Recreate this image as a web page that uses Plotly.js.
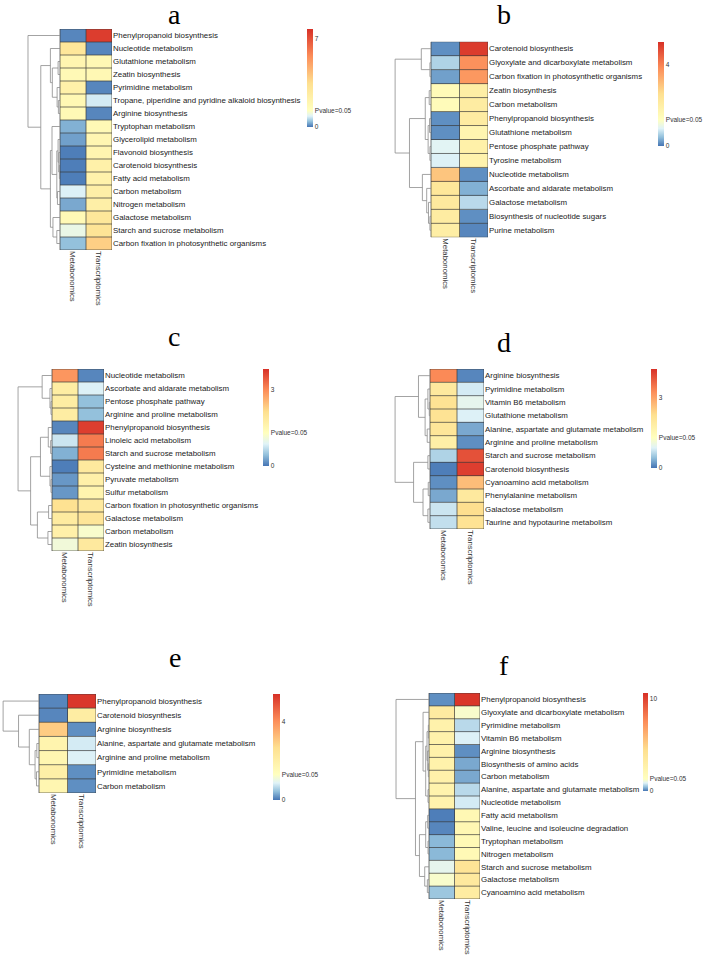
<!DOCTYPE html>
<html><head><meta charset="utf-8">
<script src="https://cdn.plot.ly/plotly-3.0.1.min.js"></script>
<style>body{margin:0;background:#fff}#chart{width:709px;height:958px}</style>
</head><body><div id="chart"></div>
<script>
const columns = ['Metabonomics', 'Transcriptomics'];
const pvalueLabel = 'Pvalue=0.05';
const pvalueLevel = 1.3;

// ---- panel a ----
const labelsA = ['Phenylpropanoid biosynthesis','Nucleotide metabolism','Glutathione metabolism','Zeatin biosynthesis','Pyrimidine metabolism','Tropane, piperidine and pyridine alkaloid biosynthesis','Arginine biosynthesis','Tryptophan metabolism','Glycerolipid metabolism','Flavonoid biosynthesis','Carotenoid biosynthesis','Fatty acid metabolism','Carbon metabolism','Nitrogen metabolism','Galactose metabolism','Starch and sucrose metabolism','Carbon fixation in photosynthetic organisms'];
const metabA = [0.1, 3.0, 2.0, 1.7, 2.3, 1.8, 1.7, 0.35, 0.25, 0.05, 0.05, 0.05, 0.85, 0.3, 1.7, 1.0, 0.45];
const transA = [7.5, 0.1, 1.8, 1.8, 0.1, 0.8, 0.1, 1.7, 1.9, 2.0, 2.3, 2.2, 2.4, 2.4, 3.0, 3.2, 3.9];
const treeA = [1, 0, [0.6, [0.3, 1, [0.24, [0.06, 2, 3], [0.09, 4, [0.05, 5, 6]]]], [0.3, [0.25, 7, [0.1, [0.06, 8, [0.04, 9, [0.02, 10, 11]]], [0.08, 12, 13]]], [0.22, 14, [0.1, 15, 16]]]]];
const maxA = 7.8, tickA = 7;

// ---- panel b ----
const labelsB = ['Carotenoid biosynthesis','Glyoxylate and dicarboxylate metabolism','Carbon fixation in photosynthetic organisms','Zeatin biosynthesis','Carbon metabolism','Phenylpropanoid biosynthesis','Glutathione metabolism','Pentose phosphate pathway','Tyrosine metabolism','Nucleotide metabolism','Ascorbate and aldarate metabolism','Galactose metabolism','Biosynthesis of nucleotide sugars','Purine metabolism'];
const metabB = [0.15, 0.6, 0.25, 1.5, 1.45, 0.15, 0.15, 0.9, 0.85, 3.0, 2.3, 2.2, 2.1, 2.0];
const transB = [5.0, 3.8, 3.7, 2.0, 2.1, 2.1, 1.7, 1.9, 1.8, 0.15, 0.35, 0.65, 0.15, 0.1];
const treeB = [1, [0.27, 0, [0.03, 1, 2]], [0.6, [0.16, [0.05, 3, 4], [0.08, [0.04, 5, 6], [0.03, 7, 8]]], [0.24, 9, [0.12, 10, [0.07, 11, [0.03, 12, 13]]]]]];
const maxB = 5.15, tickB = 4;

// ---- panel c ----
const labelsC = ['Nucleotide metabolism','Ascorbate and aldarate metabolism','Pentose phosphate pathway','Arginine and proline metabolism','Phenylpropanoid biosynthesis','Linoleic acid metabolism','Starch and sucrose metabolism','Cysteine and methionine metabolism','Pyruvate metabolism','Sulfur metabolism','Carbon fixation in photosynthetic organisms','Galactose metabolism','Carbon metabolism','Zeatin biosynthesis'];
const metabC = [2.9, 1.8, 1.8, 1.8, 0.1, 0.75, 0.35, 0.05, 0.2, 0.2, 2.1, 1.85, 1.7, 1.1];
const transC = [0.1, 0.85, 0.45, 0.45, 3.7, 3.15, 3.15, 1.9, 1.7, 1.6, 1.9, 2.0, 1.2, 1.9];
const treeC = [1, [0.29, 0, [0.06, 1, [0.03, 2, 3]]], [0.63, [0.34, [0.11, 4, [0.04, 5, 6]], [0.06, 7, [0.03, 8, 9]]], [0.43, [0.1, 10, 11], [0.12, 12, 13]]]];
const maxC = 3.83, tickC = 3;

// ---- panel d ----
const labelsD = ['Arginine biosynthesis','Pyrimidine metabolism','Vitamin B6 metabolism','Glutathione metabolism','Alanine, aspartate and glutamate metabolism','Arginine and proline metabolism','Starch and sucrose metabolism','Carotenoid biosynthesis','Cyanoamino acid metabolism','Phenylalanine metabolism','Galactose metabolism','Taurine and hypotaurine metabolism'];
const metabD = [3.3, 2.0, 2.2, 2.2, 2.1, 1.8, 0.6, 0.05, 0.15, 0.3, 0.75, 0.7];
const transD = [0.1, 0.8, 0.95, 0.85, 0.3, 0.15, 3.9, 4.1, 2.7, 2.0, 2.3, 2.2];
const treeD = [1, [0.33, 0, [0.14, [0.06, 1, [0.02, 2, 3]], [0.08, 4, 5]]], [0.47, [0.06, 6, 7], [0.2, [0.05, 8, 9], [0.06, 10, 11]]]];
const maxD = 4.25, tickD = 3;

// ---- panel e ----
const labelsE = ['Phenylpropanoid biosynthesis','Carotenoid biosynthesis','Arginine biosynthesis','Alanine, aspartate and glutamate metabolism','Arginine and proline metabolism','Pyrimidine metabolism','Carbon metabolism'];
const metabE = [0.1, 0.1, 3.0, 1.8, 1.7, 2.0, 1.7];
const transE = [5.3, 2.1, 0.15, 0.8, 0.85, 0.15, 0.15];
const treeE = [1, 0, [0.57, 1, [0.27, 2, [0.11, [0.06, 3, 4], [0.07, 5, 6]]]]];
const maxE = 5.4, tickE = 4;

// ---- panel f ----
const labelsF = ['Phenylpropanoid biosynthesis','Glyoxylate and dicarboxylate metabolism','Pyrimidine metabolism','Vitamin B6 metabolism','Arginine biosynthesis','Biosynthesis of amino acids','Carbon metabolism','Alanine, aspartate and glutamate metabolism','Nucleotide metabolism','Fatty acid metabolism','Valine, leucine and isoleucine degradation','Tryptophan metabolism','Nitrogen metabolism','Starch and sucrose metabolism','Galactose metabolism','Cyanoamino acid metabolism'];
const metabF = [0.15, 3.3, 2.6, 2.6, 2.7, 2.6, 2.7, 2.5, 2.5, 0.05, 0.1, 0.4, 0.4, 0.95, 1.2, 0.5];
const transF = [10.4, 1.2, 0.65, 0.85, 0.15, 0.3, 0.3, 0.65, 0.8, 2.0, 2.1, 1.9, 1.9, 4.0, 3.5, 3.2];
const treeF = [1, 0, [0.41, [0.18, 1, [0.1, [0.06, [0.02, 2, 3], [0.04, 4, [0.02, 5, 6]]], [0.03, 7, 8]]], [0.29, [0.1, [0.04, 9, 10], [0.03, 11, 12]], [0.13, 13, [0.05, 14, 15]]]]];
const maxF = 10.6, tickF = 10;

const panelNames = ['a','b','c','d','e','f'];

// ---- layout geometry (pixels) ----
const W = 709, H = 958;
const geom = [
  {dl: 27,  hl: 60,  hr: 112, top: 29,  bot: 250, tx: 174.5, ty: 15,  cbx: 307, cbw: 6, cbt: 29,  cbb: 127},
  {dl: 394, hl: 431, hr: 488, top: 41.7,bot: 237.3,tx: 504, ty: 15,   cbx: 658, cbw: 6, cbt: 41.7,cbb: 146},
  {dl: 17,  hl: 52,  hr: 104, top: 369, bot: 551, tx: 174,  ty: 336,  cbx: 263, cbw: 6, cbt: 369, cbb: 466},
  {dl: 394, hl: 430, hr: 484, top: 369, bot: 529, tx: 504,  ty: 342,  cbx: 651, cbw: 6, cbt: 369, cbb: 468},
  {dl: 2,   hl: 39,  hr: 96,  top: 694, bot: 793, tx: 174.5,ty: 657,  cbx: 273, cbw: 7, cbt: 694, cbb: 800},
  {dl: 395, hl: 429, hr: 480, top: 693, bot: 899, tx: 504,  ty: 665,  cbx: 643, cbw: 5, cbt: 693, cbb: 791}
];

const panels = [
  {labels: labelsA, m: metabA, t: transA, tree: treeA, max: maxA, tick: tickA},
  {labels: labelsB, m: metabB, t: transB, tree: treeB, max: maxB, tick: tickB},
  {labels: labelsC, m: metabC, t: transC, tree: treeC, max: maxC, tick: tickC},
  {labels: labelsD, m: metabD, t: transD, tree: treeD, max: maxD, tick: tickD},
  {labels: labelsE, m: metabE, t: transE, tree: treeE, max: maxE, tick: tickE},
  {labels: labelsF, m: metabF, t: transF, tree: treeF, max: maxF, tick: tickF}
];

function colorscale(zmax) {
  const t = pvalueLevel / zmax;
  return [[0,'#4575B4'],[t/3,'#91BFDB'],[2*t/3,'#E0F3F8'],[t,'#FFFFBF'],
          [t+(1-t)/3,'#FEE090'],[t+2*(1-t)/3,'#FC8D59'],[1,'#D73027']];
}

const FONT = 'Liberation Sans, Arial, sans-serif';
const traces = [];
const layout = {
  width: W, height: H, margin: {l:0, r:0, t:0, b:0},
  paper_bgcolor: '#fff', plot_bgcolor: 'rgba(0,0,0,0)',
  showlegend: false, hovermode: false, annotations: []
};

panels.forEach((p, k) => {
  const g = geom[k];
  const n = p.labels.length;
  const ax = k === 0 ? '' : String(k + 1);
  const colW = (g.hr - g.hl) / 2;
  const dUnits = (g.hl - g.dl) / colW;
  const ys = p.labels.map((_, i) => i);
  const z = ys.map(i => [p.m[i], p.t[i]]);

  traces.push({
    type: 'heatmap', z: z, x: [0, 1], y: ys, xaxis: 'x' + ax, yaxis: 'y' + ax,
    zmin: 0, zmax: p.max, colorscale: colorscale(p.max), hoverinfo: 'skip',
    showscale: true,
    colorbar: {
      x: g.cbx / W, xanchor: 'left', xpad: 0,
      y: 1 - g.cbt / H, yanchor: 'top', ypad: 0,
      len: g.cbb - g.cbt, lenmode: 'pixels',
      thickness: g.cbw, thicknessmode: 'pixels',
      outlinewidth: 0, ticks: '', ticklen: 0,
      tickvals: [0, pvalueLevel, p.tick], ticktext: ['0', pvalueLabel, String(p.tick)],
      tickfont: {family: FONT, size: 6.5, color: '#333'}
    }
  });

  // cell borders
  const gx = [], gy = [];
  for (let i = 0; i <= n; i++) { gx.push(-0.5, 1.5, null); gy.push(i - 0.5, i - 0.5, null); }
  for (let j = 0; j <= columns.length; j++) { gx.push(j - 0.5, j - 0.5, null); gy.push(-0.5, n - 0.5, null); }
  traces.push({type: 'scatter', mode: 'lines', x: gx, y: gy, xaxis: 'x' + ax, yaxis: 'y' + ax,
    line: {color: '#3a3a3a', width: 0.7}, hoverinfo: 'skip', cliponaxis: false});

  // dendrogram
  const dx = [], dy = [];
  const hx = h => -0.5 - h * dUnits * 0.97;
  function walk(node) {
    if (typeof node === 'number') return {y: node, h: 0};
    const L = walk(node[1]), R = walk(node[2]);
    const h = node[0];
    dx.push(hx(L.h), hx(h), hx(h), hx(R.h), null);
    dy.push(L.y, L.y, R.y, R.y, null);
    return {y: (L.y + R.y) / 2, h: h};
  }
  walk(p.tree);
  traces.push({type: 'scatter', mode: 'lines', x: dx, y: dy, xaxis: 'x' + ax, yaxis: 'y' + ax,
    line: {color: '#8c8c8c', width: 0.8}, hoverinfo: 'skip', cliponaxis: false});

  layout['xaxis' + ax] = {
    domain: [g.dl / W, g.hr / W], range: [-0.5 - dUnits, 1.5], anchor: 'y' + ax,
    tickvals: [0, 1], ticktext: columns, tickangle: 90, ticks: '',
    showgrid: false, zeroline: false, showline: false, fixedrange: true,
    tickfont: {family: FONT, size: 7.8, color: '#333'}
  };
  layout['yaxis' + ax] = {
    domain: [1 - g.bot / H, 1 - g.top / H], range: [n - 0.5, -0.5], anchor: 'x' + ax,
    side: 'right', tickvals: ys, ticktext: p.labels, ticks: '',
    showgrid: false, zeroline: false, showline: false, fixedrange: true,
    tickfont: {family: FONT, size: 7.9, color: '#222'}
  };
  layout.annotations.push({
    xref: 'paper', yref: 'paper', x: g.tx / W, y: 1 - g.ty / H,
    xanchor: 'center', yanchor: 'middle', showarrow: false, text: panelNames[k],
    font: {family: 'Liberation Serif, Times New Roman, serif', size: 28, color: '#000'}
  });
});

Plotly.newPlot('chart', traces, layout, {staticPlot: true, displayModeBar: false});
</script>
</body></html>
